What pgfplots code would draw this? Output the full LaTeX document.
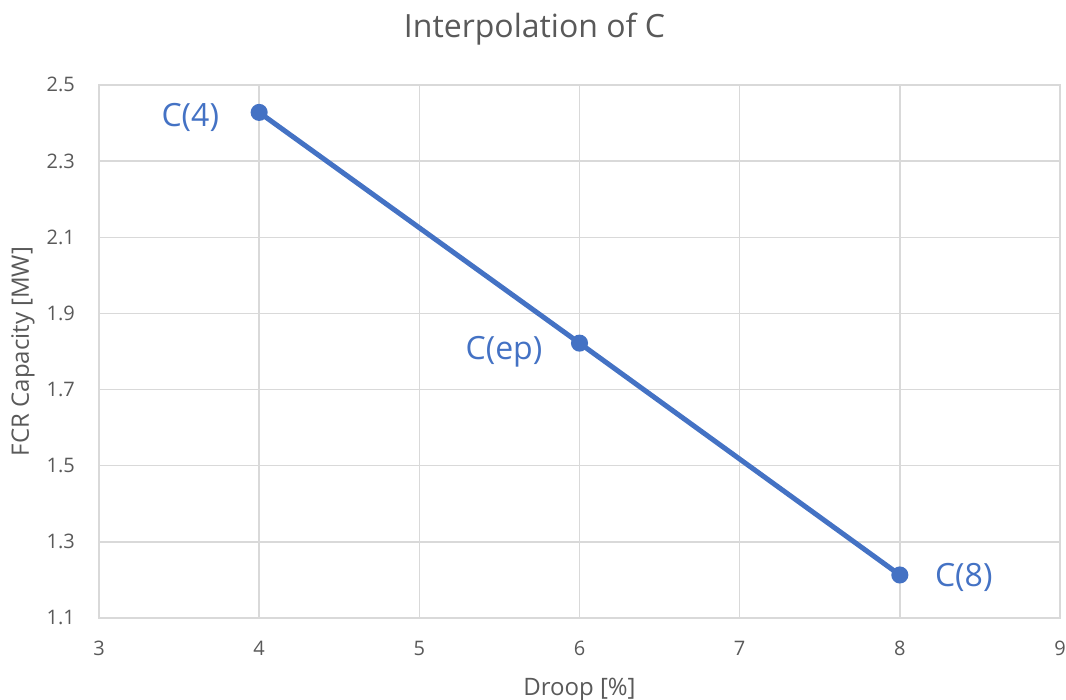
\documentclass[border=0pt]{standalone}
\usepackage{pgfplots}
\pgfplotsset{compat=1.18}
\usepackage{fontspec}
\setmainfont{Open Sans}
\definecolor{xlblue}{HTML}{4472C4}
\definecolor{xlgray}{HTML}{595959}
\definecolor{xlgrid}{HTML}{D9D9D9}
\begin{document}
\begin{tikzpicture}
\begin{axis}[
    at={(0,0)}, anchor=south west,
    scale only axis,
    width=961pt, height=533pt,
    xmin=3, xmax=9, ymin=1.1, ymax=2.5,
    xtick={3,4,5,6,7,8,9},
    ytick={1.1,1.3,1.5,1.7,1.9,2.1,2.3,2.5},
    grid=major,
    grid style={xlgrid, line width=1.5pt},
    axis line style={xlgrid, line width=1.5pt},
    tick style={draw=none},
    /pgf/number format/assume math mode=true,
    yticklabel style={/pgf/number format/fixed, /pgf/number format/fixed zerofill, /pgf/number format/precision=1},
    ticklabel style={font=\fontsize{20}{24}\selectfont, text=xlgray, inner sep=0pt},
    xticklabel style={anchor=base, yshift=-38pt},
    yticklabel style={anchor=base east, xshift=-24pt, yshift=-7pt},
    xlabel={Droop [\%]},
    ylabel={FCR Capacity [MW]},
    label style={font=\fontsize{24}{28}\selectfont, text=xlgray, inner sep=0pt},
    xlabel style={at={(rel axis cs:0.5,0)}, anchor=base, yshift=-78pt},
    ylabel style={at={(rel axis cs:0,0.5)}, anchor=center, yshift=76pt},
    title={Interpolation of C},
    every axis title shift=0pt,
    title style={at={(rel axis cs:0.5,1)}, anchor=base, xshift=-45pt, yshift=47pt, inner sep=0pt, font=\fontsize{32}{38}\selectfont, text=xlgray},
]
\addplot[xlblue, line width=5pt, mark=*, mark size=6pt, mark options={solid}] coordinates {
    (4,2.428) (6,1.822) (8,1.213)
};
\addplot[draw=none, mark=none, nodes near coords, point meta=explicit symbolic,
    nodes near coords style={anchor=base east, inner sep=0pt, xshift=-40pt, yshift=-14pt, text=xlblue, font=\fontsize{32}{38}\selectfont}]
    coordinates {
    (4,2.428) [C(4)]
};
\addplot[draw=none, mark=none, nodes near coords, point meta=explicit symbolic,
    nodes near coords style={anchor=base east, inner sep=0pt, xshift=-37pt, yshift=-16pt, text=xlblue, font=\fontsize{32}{38}\selectfont}]
    coordinates {
    (6,1.822) [C(ep)]
};
\addplot[draw=none, mark=none, nodes near coords, point meta=explicit symbolic,
    nodes near coords style={anchor=base west, inner sep=0pt, xshift=35pt, yshift=-12pt, text=xlblue, font=\fontsize{32}{38}\selectfont}]
    coordinates {
    (8,1.213) [C(8)]
};
\end{axis}
\pgfresetboundingbox
\path (-99pt,-82pt) rectangle (967pt,618pt);
\end{tikzpicture}
\end{document}
